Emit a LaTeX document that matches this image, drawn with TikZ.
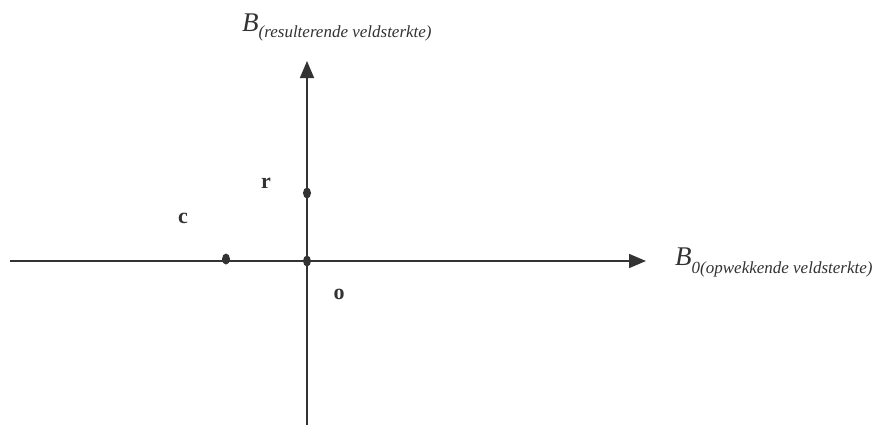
\documentclass[tikz,border=0pt]{standalone}
\usepackage{fontspec}
\setmainfont{Liberation Serif}
\usetikzlibrary{arrows.meta}
\definecolor{ax}{HTML}{333333}
\tikzset{
  axis/.style={draw=ax, line width=1.6pt, -{Triangle[length=17pt,width=14pt]}},
  lbl/.style={font=\fontsize{22}{22}\selectfont\bfseries, text=ax, inner sep=0pt},
  axlbl/.style={inner sep=0pt, anchor=base west, text=ax}
}
\newcommand{\bigB}{\fontsize{27}{27}\selectfont\textit{B}}
\newcommand{\subtxt}[2]{\raisebox{-#1pt}{\fontsize{17}{17}\selectfont\textit{#2}}}
\begin{document}
\begin{tikzpicture}[x=1pt,y=-1pt]
\useasboundingbox (0,0) rectangle (877,429);
\coordinate (hl) at (10,261);
\coordinate (hr) at (646,261);
\coordinate (vb) at (307,425);
\coordinate (vt) at (307,61);
\draw[axis] (hl) -- (hr);
\draw[axis] (vb) -- (vt);
\fill[ax] (307,193) ellipse (4pt and 5.5pt);
\fill[ax] (307,261) ellipse (4pt and 5.5pt);
\fill[ax] (226,259) ellipse (4pt and 5.5pt);
\node[lbl] (r) at (266,183) {r};
\node[lbl] (c) at (183,218) {c};
\node[lbl] (o) at (339,294) {o};
\node[axlbl] (by) at (242,31) {\bigB\subtxt{6}{(resulterende veldsterkte)}};
\node[axlbl] (bx) at (675,265) {\bigB\subtxt{8}{0(opwekkende veldsterkte)}};
\end{tikzpicture}
\end{document}
